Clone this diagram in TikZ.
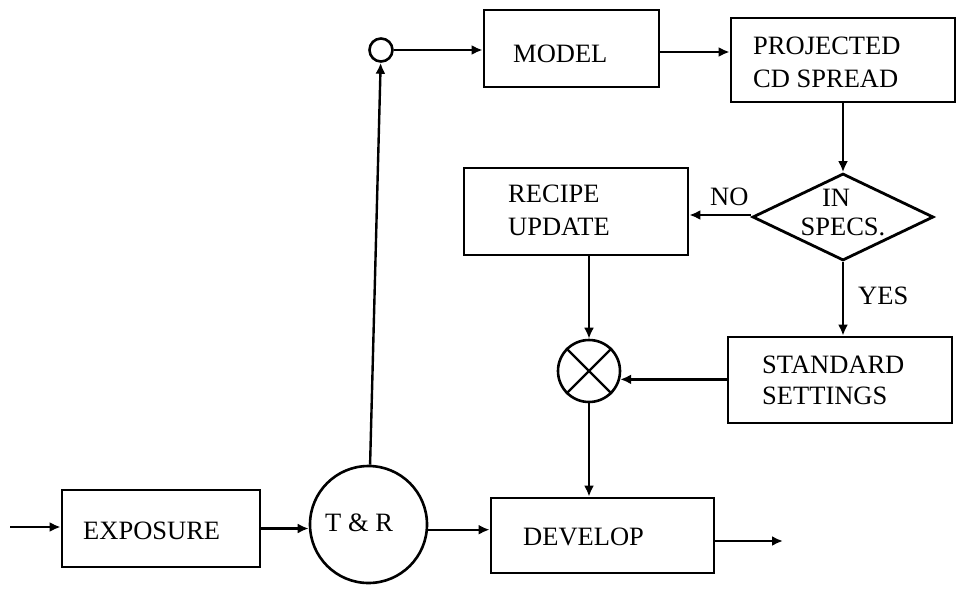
\documentclass[tikz,border=0pt]{standalone}
\usepackage{fontspec}
\setmainfont{Liberation Serif}
\usetikzlibrary{shapes.geometric,arrows.meta}

\tikzset{
  lbl/.style={inner sep=0pt, anchor=base west, font=\fontsize{26.5}{33}\selectfont},
  blockbox/.style={draw, line width=2.8pt, rectangle, inner sep=0pt},
  ring/.style={draw, line width=2.6pt, circle, inner sep=0pt},
  flow/.style={line width=2.4pt, -{Latex[length=11pt,width=10pt]}},
  plain/.style={line width=2.4pt},
}

\begin{document}
\begin{tikzpicture}[x=1pt, y=-1pt]
\useasboundingbox (0,0) rectangle (960,589);

% ---- blocks ----
\node[blockbox, minimum width=175pt, minimum height=77pt] (model) at (571.5,48.5) {};
\node[blockbox, minimum width=224pt, minimum height=84pt] (proj) at (843,60) {};
\node[draw, line width=2.8pt, diamond, inner sep=0pt, minimum width=181pt, minimum height=87pt] (spec) at (843,217) {};
\node[blockbox, minimum width=224pt, minimum height=87pt] (recipe) at (576,211.5) {};
\node[blockbox, minimum width=224pt, minimum height=86pt] (std) at (840,380) {};
\node[blockbox, minimum width=198pt, minimum height=77pt] (expo) at (161,528.5) {};
\node[blockbox, minimum width=223pt, minimum height=75pt] (dev) at (602.5,535.5) {};

% ---- round elements ----
\node[ring, minimum size=23pt] (sum) at (381,50) {};
\node[ring, minimum size=62pt] (mix) at (589,371) {};
\draw[plain] (mix.45) -- (mix.225) (mix.135) -- (mix.-45);
\node[ring, minimum size=117pt] (tr) at (368.5,524.5) {};

% ---- texts ----
\node[lbl] (tmodel) at (513,62) {MODEL};
\node[lbl] (tproj1) at (753,54) {PROJECTED};
\node[lbl] (tproj2) at (753,87) {CD SPREAD};
\node[lbl] (trec1) at (508,202) {RECIPE};
\node[lbl] (trec2) at (508,235) {UPDATE};
\node[lbl, anchor=base] (tspec1) at (836,206) {IN};
\node[lbl, anchor=base] (tspec2) at (843,235) {SPECS.};
\node[lbl] (tno) at (710,205) {NO};
\node[lbl] (tyes) at (858,304) {YES};
\node[lbl] (tstd1) at (762,373) {STANDARD};
\node[lbl] (tstd2) at (762,404) {SETTINGS};
\node[lbl] (texpo) at (83,539) {EXPOSURE};
\node[lbl] (ttr) at (325,531) {T \& R};
\node[lbl] (tdev) at (523,545) {DEVELOP};

% ---- connectors ----
\coordinate (in) at (10,527);
\coordinate (out) at (783,541);
\draw[flow] (in) -- (in -| expo.west);
\draw[flow] (expo.east) -- (expo.east -| tr.west);
\draw[flow] (tr.-5) -- (tr.-5 -| dev.west);
\draw[flow] (dev.east |- out) -- (out);
\draw[flow] (tr) -- (sum);
\draw[flow] (sum.east) -- (sum.east -| model.west);
\draw[flow] ([yshift=-3.5pt]model.east) -- ([yshift=-3.5pt]model.east -| proj.west);
\draw[flow] (proj.south) -- (spec.north);
\draw[flow] ([yshift=2pt]spec.west) -- ([yshift=2pt]spec.west -| recipe.east);
\draw[flow] (spec.south) -- (spec.south |- std.north);
\draw[flow] (recipe.south -| mix.north) -- (mix.north);
\draw[flow] (mix.-15 -| std.west) -- (mix.-15);
\draw[flow] (mix.south) -- (mix.south |- dev.north);
\end{tikzpicture}
\end{document}
